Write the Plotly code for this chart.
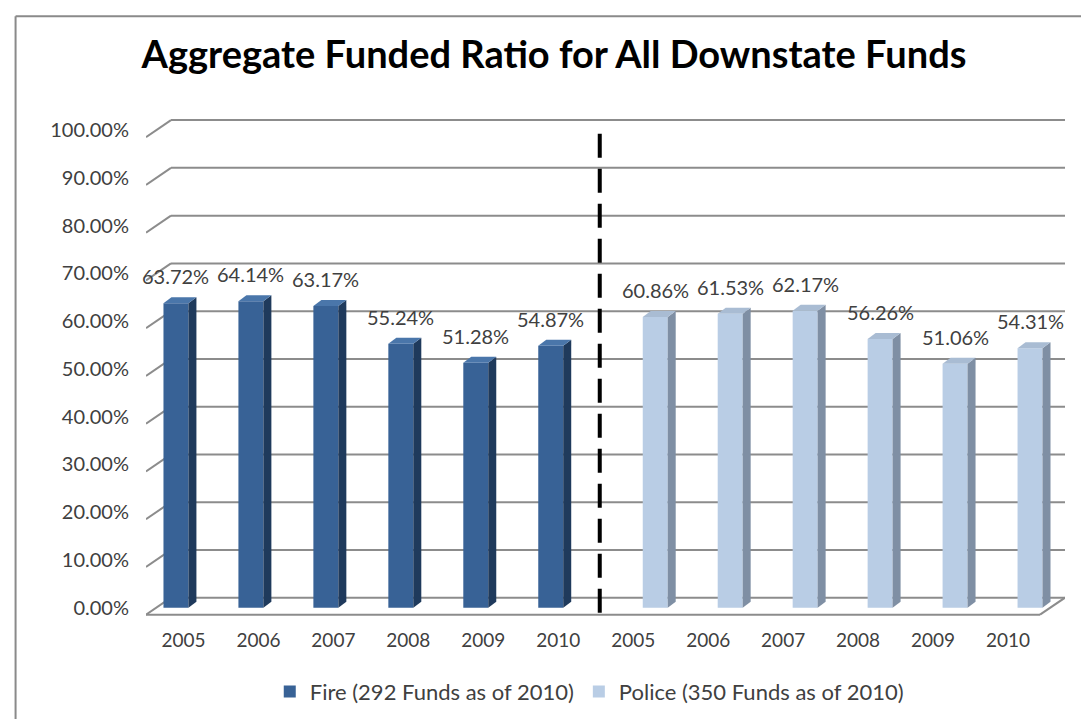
import plotly.graph_objects as go

# ---------------- data ----------------
years = ["2005", "2006", "2007", "2008", "2009", "2010"]
fire = [0.6372, 0.6414, 0.6317, 0.5524, 0.5128, 0.5487]
police = [0.6086, 0.6153, 0.6217, 0.5626, 0.5106, 0.5431]
fire_name = "Fire (292 Funds as of 2010)"
police_name = "Police (350 Funds as of 2010)"
y_ticks = [0.0, 0.1, 0.2, 0.3, 0.4, 0.5, 0.6, 0.7, 0.8, 0.9, 1.0]
title = "Aggregate Funded Ratio for All Downstate Funds"

# ---------------- layout geometry ----------------
W, H = 1089, 719
PX_X = 75.0          # pixels per category
PX_Y = 478.0         # pixels per 100%
Y0_PIX = 600.0       # pixel row of value 0 (bar base)
L = 137.5
X_RANGE = [-0.5, 11.76]
Y_RANGE = [-0.03, 1.04]
plot_w = (X_RANGE[1] - X_RANGE[0]) * PX_X
plot_h = (Y_RANGE[1] - Y_RANGE[0]) * PX_Y
T = Y0_PIX - Y_RANGE[1] * PX_Y
B = H - (Y0_PIX - Y_RANGE[0] * PX_Y)
R = W - L - plot_w

# 3D offsets (data units)
BAR_W = 0.333
FIRE_OFF = -0.267
POL_OFF = 0.127
DX = 8 / PX_X
DY = 6 / PX_Y
WALL_DX = 25 / PX_X
FRONT_DY = -7 / PX_Y
BACK_DY = 10 / PX_Y

fire_x = list(range(len(years)))
police_x = [len(years) + i for i in range(len(years))]
all_labels = years + years

FONT = "Lato, 'Open Sans', sans-serif"
TXT = "#404040"

fire_front, fire_side, fire_top = "#386296", "#1F3A5C", "#4A76AA"
pol_front, pol_side, pol_top = "#B9CDE5", "#7F8FA4", "#A9BCD3"

fig = go.Figure()
fig.add_trace(go.Bar(x=fire_x, y=fire, width=BAR_W, offset=FIRE_OFF, name=fire_name,
                     marker=dict(color=fire_front, line=dict(width=0)), hoverinfo="skip"))
fig.add_trace(go.Bar(x=police_x, y=police, width=BAR_W, offset=POL_OFF, name=police_name,
                     marker=dict(color=pol_front, line=dict(width=0)), hoverinfo="skip"))

shapes = []
GRID = dict(color="#8C8C8C", width=2)
# gridlines (perspective back wall)
for v in y_ticks:
    shapes.append(dict(type="line", xref="x", yref="y", layer="below",
                       x0=X_RANGE[0], y0=v + FRONT_DY, x1=X_RANGE[0] + WALL_DX, y1=v + BACK_DY,
                       line=GRID))
    shapes.append(dict(type="line", xref="x", yref="y", layer="below",
                       x0=X_RANGE[0] + WALL_DX, y0=v + BACK_DY, x1=X_RANGE[1], y1=v + BACK_DY,
                       line=GRID))
# floor front edge
shapes.append(dict(type="line", xref="x", yref="y", layer="below",
                   x0=X_RANGE[0], y0=FRONT_DY, x1=X_RANGE[1] - WALL_DX, y1=FRONT_DY,
                   line=GRID))
shapes.append(dict(type="line", xref="x", yref="y", layer="below",
                   x0=X_RANGE[1] - WALL_DX, y0=FRONT_DY, x1=X_RANGE[1], y1=BACK_DY,
                   line=GRID))

annotations = []


def add_3d(xs, vals, off, side_c, top_c):
    for x, v in zip(xs, vals):
        xl = x + off
        xr = xl + BAR_W
        shapes.append(dict(type="path", xref="x", yref="y", layer="above",
                           path=f"M{xr},0 L{xr},{v} L{xr + DX},{v + DY} L{xr + DX},{DY} Z",
                           fillcolor=side_c, line=dict(width=0)))
        shapes.append(dict(type="path", xref="x", yref="y", layer="above",
                           path=f"M{xl},{v} L{xr},{v} L{xr + DX},{v + DY} L{xl + DX},{v + DY} Z",
                           fillcolor=top_c, line=dict(width=0)))
        annotations.append(dict(x=(xl + xr) / 2, y=v, xref="x", yref="y", text=f"{v * 100:.2f}%",
                                showarrow=False, yanchor="bottom", yshift=13,
                                font=dict(family=FONT, size=20, color=TXT)))


add_3d(fire_x, fire, FIRE_OFF, fire_side, fire_top)
add_3d(police_x, police, POL_OFF, pol_side, pol_top)

# dashed divider between the two groups
div_x = len(years) - 0.5 + 4 / PX_X
shapes.append(dict(type="line", xref="x", yref="y", layer="above",
                   x0=div_x, x1=div_x, y0=-5 / PX_Y, y1=(Y0_PIX - 125) / PX_Y,
                   line=dict(color="black", width=4, dash="24px,11px")))


# outer chart border (top and left), in paper coordinates
def px_to_paper_x(px):
    return (px - L) / plot_w


def py_to_paper_y(py):
    return ((H - B) - py) / plot_h


shapes.append(dict(type="line", xref="paper", yref="paper",
                   x0=px_to_paper_x(7), y0=py_to_paper_y(8), x1=px_to_paper_x(W + 5), y1=py_to_paper_y(8),
                   line=dict(color="#8A8A8A", width=2)))
shapes.append(dict(type="line", xref="paper", yref="paper",
                   x0=px_to_paper_x(7), y0=py_to_paper_y(8), x1=px_to_paper_x(7), y1=py_to_paper_y(H + 5),
                   line=dict(color="#8A8A8A", width=2)))

fig.update_layout(
    width=W, height=H,
    margin=dict(l=L, r=R, t=T, b=B, autoexpand=False),
    paper_bgcolor="white", plot_bgcolor="white",
    barmode="overlay",
    shapes=shapes, annotations=annotations,
    title=dict(text=f"<b>{title}</b>", xref="container", yref="container",
               x=546 / W, y=1 - 47 / H, xanchor="center", yanchor="middle",
               font=dict(family=FONT, size=38, color="black")),
    xaxis=dict(range=X_RANGE, tickmode="array", tickvals=fire_x + police_x, ticktext=all_labels,
               showgrid=False, zeroline=False, showline=False, ticks="",
               tickfont=dict(family=FONT, size=19, color=TXT), ticklabelstandoff=5, fixedrange=True),
    yaxis=dict(range=Y_RANGE, tickmode="array", tickvals=y_ticks, tickformat=".2%",
               showgrid=False, zeroline=False, showline=False, ticks="",
               tickfont=dict(family=FONT, size=20, color=TXT), ticklabelstandoff=16, fixedrange=True),
    legend=dict(orientation="h", xanchor="center", yanchor="middle",
                x=px_to_paper_x(581), y=py_to_paper_y(684),
                font=dict(family=FONT, size=22, color=TXT), itemwidth=30,
                bgcolor="rgba(0,0,0,0)"),
    showlegend=True,
)

fig.write_html("out.html")
